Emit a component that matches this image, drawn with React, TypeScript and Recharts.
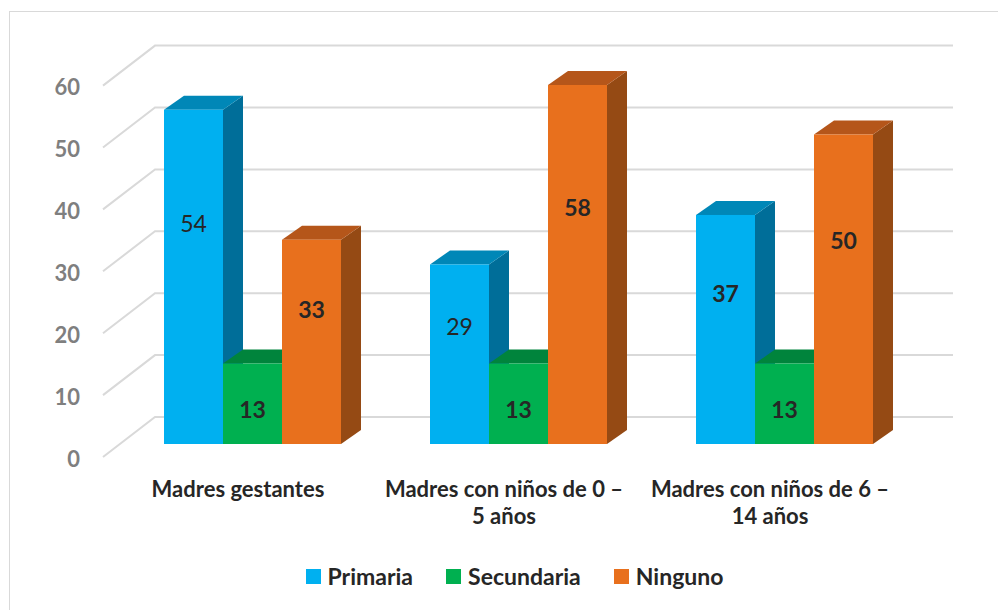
import { BarChart, Bar, XAxis, YAxis, CartesianGrid, LabelList } from "recharts"

const categories = [
  "Madres gestantes",
  "Madres con niños de 0 – 5 años",
  "Madres con niños de 6 – 14 años",
]
const primaria = [54, 29, 37]
const secundaria = [13, 13, 13]
const ninguno = [33, 58, 50]
const yTicks = [0, 10, 20, 30, 40, 50, 60]

const data = categories.map((name, i) => ({
  name,
  Primaria: primaria[i],
  Secundaria: secundaria[i],
  Ninguno: ninguno[i],
}))

// front / top / side shades for the 3D boxes
const series = [
  { key: "Primaria", front: "#00B0F0", top: "#0087B7", side: "#006E99" },
  { key: "Secundaria", front: "#00B050", top: "#00843C", side: "#006F33" },
  { key: "Ninguno", front: "#E8701D", top: "#B5561A", side: "#954A14" },
]

// labels that Excel left in regular weight
const plainLabels: Record<string, number[]> = { Primaria: [0, 1] }

const FONT = "Lato, 'Noto Sans', sans-serif"
const DEPTH_X = 20
const DEPTH_Y = 14

const Box3D = (props: any) => {
  const { x, y, width: w, height: h, colors } = props
  if (h == null || w == null) return null
  return (
    <g>
      <polygon
        points={`${x + w},${y} ${x + w + DEPTH_X},${y - DEPTH_Y} ${x + w + DEPTH_X},${y + h - DEPTH_Y} ${x + w},${y + h}`}
        fill={colors.side}
      />
      <polygon
        points={`${x},${y} ${x + DEPTH_X},${y - DEPTH_Y} ${x + w + DEPTH_X},${y - DEPTH_Y} ${x + w},${y}`}
        fill={colors.top}
      />
      <rect x={x} y={y} width={w} height={h} fill={colors.front} />
    </g>
  )
}

// gridline: diagonal on the side wall, then flat across the back wall
const GridLine = (p: any) => {
  const y = p.y1
  return (
    <path
      key={p.key}
      d={`M103,${y + 13} L155,${y - 27} L953,${y - 27}`}
      fill="none"
      stroke="#d9d9d9"
      strokeWidth={2}
    />
  )
}

const YTick = ({ y, payload }: any) => (
  <text
    x={80}
    y={y + 14}
    textAnchor="end"
    dominantBaseline="central"
    fontFamily={FONT}
    fontWeight={700}
    fontSize={22}
    fill="#7f7f7f"
  >
    {payload.value}
  </text>
)

const XTick = ({ x, payload }: any) => {
  const parts = String(payload.value).split("– ")
  const lines = parts.length > 1 ? [parts[0] + "–", parts[1]] : parts
  return (
    <text
      x={x - 15}
      y={490}
      textAnchor="middle"
      fontFamily={FONT}
      fontWeight={700}
      fontSize={22}
      fill="#262626"
    >
      {lines.map((l, i) => (
        <tspan key={i} x={x - 15} dy={i === 0 ? 7 : 27}>
          {l}
        </tspan>
      ))}
    </text>
  )
}

const makeLabel = (key: string) => (props: any) => {
  const { x, y, width, height, value, index } = props
  const ly = height > 120 ? y + height * 0.34 : y + height * 0.57
  const plain = (plainLabels[key] || []).includes(index)
  return (
    <text
      x={x + width / 2}
      y={ly}
      textAnchor="middle"
      dominantBaseline="central"
      fontFamily={FONT}
      fontWeight={plain ? 400 : 700}
      fontSize={23}
      fill="#262626"
    >
      {value}
    </text>
  )
}

export default function App() {
  return (
    <div
      style={{
        position: "absolute",
        left: 0,
        top: 0,
        width: 998,
        height: 610,
        background: "#fff",
        overflow: "hidden",
      }}
    >
      <div
        style={{
          position: "absolute",
          left: 9,
          top: 11,
          width: 1100,
          height: 800,
          border: "1.5px solid #d9d9d9",
        }}
      />
      <div style={{ position: "absolute", left: 0, top: 0 }}>
        <BarChart
          width={998}
          height={610}
          data={data}
          margin={{ top: 72.6, right: 80, left: 60, bottom: 106 }}
          barCategoryGap={44}
          barGap={0}
        >
          <CartesianGrid vertical={false} horizontal={GridLine} />
          <XAxis
            dataKey="name"
            height={60}
            axisLine={false}
            tickLine={false}
            interval={0}
            tick={XTick}
          />
          <YAxis
            width={60}
            domain={[0, 60]}
            ticks={yTicks}
            axisLine={false}
            tickLine={false}
            tick={YTick}
          />
          {series.map((s) => (
            <Bar
              key={s.key}
              dataKey={s.key}
              isAnimationActive={false}
              shape={(p: any) => <Box3D {...p} colors={s} />}
            >
              <LabelList dataKey={s.key} content={makeLabel(s.key)} />
            </Bar>
          ))}
        </BarChart>
      </div>
      <div
        style={{
          position: "absolute",
          left: 0,
          top: 562,
          width: 998,
          display: "flex",
          justifyContent: "center",
          paddingLeft: 31,
          boxSizing: "border-box",
          fontFamily: FONT,
          fontWeight: 700,
          fontSize: 23,
          color: "#262626",
          lineHeight: "28px",
        }}
      >
        {series.map((s, i) => (
          <div
            key={s.key}
            style={{
              display: "flex",
              alignItems: "center",
              marginLeft: i === 0 ? 0 : 33,
            }}
          >
            <span
              style={{
                width: 15,
                height: 15,
                background: s.front,
                marginRight: 7,
                display: "inline-block",
              }}
            />
            {s.key}
          </div>
        ))}
      </div>
    </div>
  )
}
